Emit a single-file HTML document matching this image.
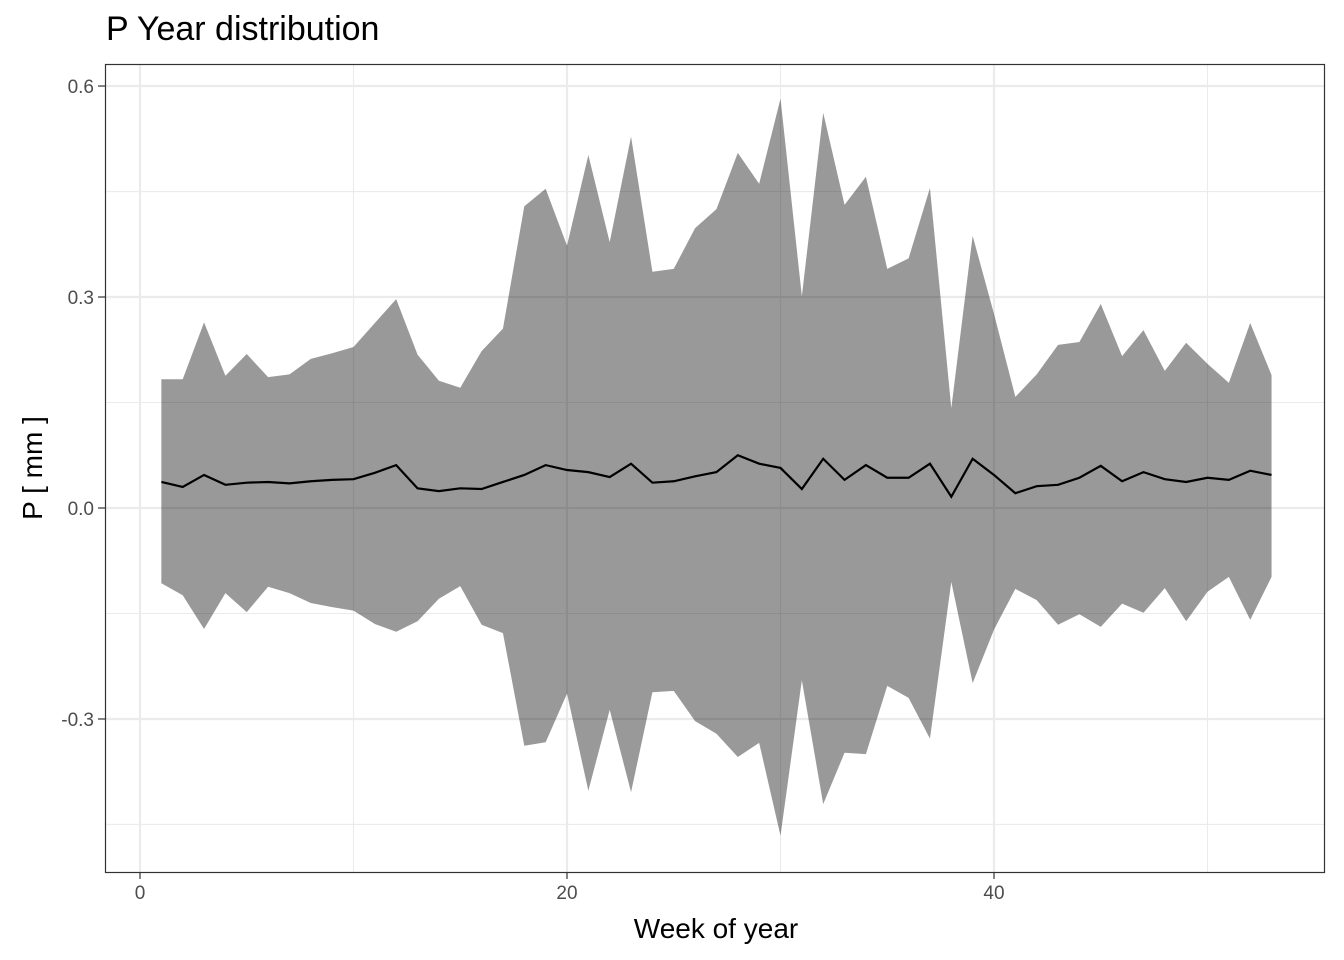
<!DOCTYPE html>
<html><head><meta charset="utf-8"><style>
body{margin:0;background:#fff;}
svg{display:block;font-family:"Liberation Sans",sans-serif;}
</style></head><body>
<svg id="chart" width="1344" height="960">
<text x="106" y="40" font-size="34" fill="#000">P Year distribution</text>
<g id="grid"></g>
<g id="band-g"></g>
<g id="line-g"></g>
<rect x="105.5" y="64.5" width="1219" height="808" fill="none" stroke="#333" stroke-width="1.2"/>
<g id="axes"></g>
<text x="716" y="938" font-size="28" text-anchor="middle" fill="#000">Week of year</text>
<text transform="translate(42,468) rotate(-90)" font-size="28" text-anchor="middle" fill="#000">P [ mm ]</text>
</svg>
<script>
const weeks = Array.from({length:53},(_,i)=>i+1);
const upper = [0.183,0.183,0.264,0.188,0.219,0.186,0.19,0.212,0.22,0.229,0.263,0.297,0.218,0.181,0.171,0.223,0.255,0.429,0.454,0.373,0.502,0.378,0.528,0.336,0.34,0.398,0.425,0.505,0.461,0.582,0.301,0.562,0.431,0.471,0.34,0.355,0.455,0.142,0.387,0.276,0.158,0.19,0.232,0.236,0.29,0.216,0.253,0.195,0.235,0.205,0.178,0.263,0.189];
const lower = [-0.107,-0.124,-0.172,-0.121,-0.148,-0.112,-0.121,-0.135,-0.141,-0.146,-0.165,-0.176,-0.161,-0.129,-0.111,-0.166,-0.178,-0.338,-0.333,-0.264,-0.402,-0.287,-0.404,-0.262,-0.26,-0.303,-0.321,-0.354,-0.334,-0.466,-0.245,-0.421,-0.348,-0.35,-0.253,-0.27,-0.328,-0.105,-0.249,-0.173,-0.115,-0.131,-0.166,-0.151,-0.169,-0.136,-0.149,-0.114,-0.161,-0.119,-0.098,-0.159,-0.098];
const mean = [0.037,0.03,0.047,0.033,0.036,0.037,0.035,0.038,0.04,0.041,0.05,0.061,0.028,0.024,0.028,0.027,0.037,0.047,0.061,0.054,0.051,0.044,0.063,0.036,0.038,0.045,0.051,0.075,0.063,0.057,0.027,0.07,0.04,0.061,0.043,0.043,0.063,0.016,0.07,0.047,0.021,0.031,0.033,0.043,0.06,0.038,0.051,0.041,0.037,0.043,0.04,0.053,0.047];
const xTicks = [0,20,40];
const xMinor = [10,30,50];
const yTicks = [0.6,0.3,0.0,-0.3];
const yTickLabels = ["0.6","0.3","0.0","-0.3"];
const yMinor = [0.45,0.15,-0.15,-0.45];

const X = v => 140 + v*21.35;
const Y = v => 508 - v*703.3;
const NS="http://www.w3.org/2000/svg";
function mk(tag,parent,attrs){const e=document.createElementNS(NS,tag);for(const k in attrs)e.setAttribute(k,attrs[k]);document.getElementById(parent).appendChild(e);return e;}

xMinor.forEach(v=>{const e=mk('line','grid',{x1:X(v),x2:X(v),y1:64,y2:872,stroke:'#ebebeb','stroke-width':1.1});

});
yMinor.forEach(v=>{const e=mk('line','grid',{x1:105,x2:1324,y1:Y(v),y2:Y(v),stroke:'#ebebeb','stroke-width':1.1});

});
xTicks.forEach(v=>{const e=mk('line','grid',{x1:X(v),x2:X(v),y1:64,y2:872,stroke:'#ebebeb','stroke-width':2.2});

});
yTicks.forEach(v=>{const e=mk('line','grid',{x1:105,x2:1324,y1:Y(v),y2:Y(v),stroke:'#ebebeb','stroke-width':2.2});

});

let pts = weeks.map((w,i)=>X(w)+','+Y(upper[i]));
for(let i=weeks.length-1;i>=0;i--) pts.push(X(weeks[i])+','+Y(lower[i]));
const band = mk('polygon','band-g',{points:pts.join(' '),fill:'#000','fill-opacity':0.4});



const line = mk('polyline','line-g',{points:weeks.map((w,i)=>X(w)+','+Y(mean[i])).join(' '),fill:'none',stroke:'#000','stroke-width':2.2});



xTicks.forEach(v=>{
 const t=mk('line','axes',{x1:X(v),x2:X(v),y1:872,y2:879,stroke:'#333','stroke-width':1.2});
 
 
 const l=mk('text','axes',{x:X(v),y:899,'font-size':19,'text-anchor':'middle',fill:'#4d4d4d'});
 l.textContent=v;
 
 
});
yTicks.forEach((v,i)=>{
 const t=mk('line','axes',{x1:98,x2:105,y1:Y(v),y2:Y(v),stroke:'#333','stroke-width':1.2});
 
 
 const l=mk('text','axes',{x:94,y:Y(v)+7,'font-size':19,'text-anchor':'end',fill:'#4d4d4d'});
 l.textContent=yTickLabels[i];
 
 
});
</script>
</body></html>
